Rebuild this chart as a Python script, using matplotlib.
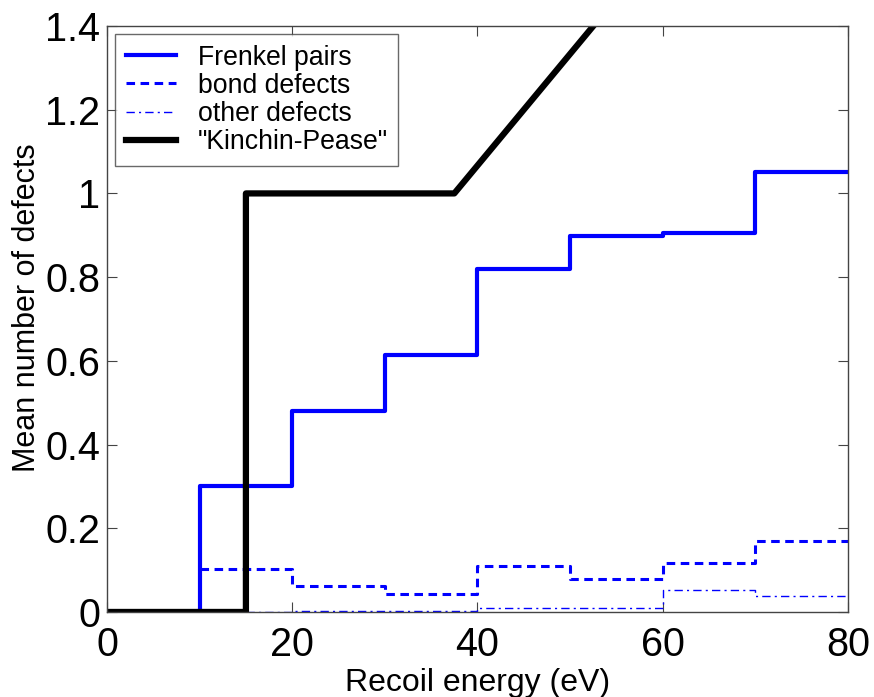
import numpy as np
import matplotlib
matplotlib.use('Agg')
import matplotlib.pyplot as plt

# step data (value holds from each energy to the next)
energy_bins = [0, 10, 20, 30, 40, 50, 60, 70, 80]
frenkel_pairs = [0.0, 0.30, 0.48, 0.615, 0.82, 0.898, 0.905, 1.05, 1.05]

bond_x = [10, 20, 30, 40, 50, 60, 70, 80]
bond_defects = [0.103, 0.062, 0.042, 0.110, 0.079, 0.117, 0.169, 0.169]

other_x = [15, 20, 30, 40, 50, 60, 70, 80]
other_defects = [0.0, 0.003, 0.003, 0.010, 0.010, 0.053, 0.038, 0.038]

# "Kinchin-Pease" curve corners
kp_x = [0, 15, 15, 37.5, 80]
kp_y = [0, 0, 1, 1, 2.133]

plt.rcParams['font.family'] = ['Liberation Sans', 'DejaVu Sans']

fig = plt.figure(figsize=(8.74, 6.97), dpi=100)
ax = fig.add_axes([0.1224, 0.1220, 0.8478, 0.8407])

ax.plot(energy_bins, frenkel_pairs, drawstyle='steps-post', color='#0000ff', lw=3, label='Frenkel pairs')
ax.plot(bond_x, bond_defects, drawstyle='steps-post', color='#0000ff', lw=2.2, ls=(0, (2.8, 1.8)), label='bond defects')
ax.plot(other_x, other_defects, drawstyle='steps-post', color='#0000ff', lw=1.0, ls=(0, (6, 3, 1.5, 3)), label='other defects')
ax.plot(kp_x, kp_y, color='black', lw=4.5, label='"Kinchin-Pease"')

ax.set_xlim(0, 80)
ax.set_ylim(0, 1.4)
ax.set_xticks([0, 20, 40, 60, 80])
ax.set_yticks(np.arange(0, 1.41, 0.2))
ax.set_yticklabels(['0', '0.2', '0.4', '0.6', '0.8', '1', '1.2', '1.4'])
ax.tick_params(direction='in', length=7, width=0.8, color='#444444', labelsize=28.5,
               top=True, right=True)
ax.tick_params(axis='x', pad=10)
ax.tick_params(axis='y', pad=5)
for s in ax.spines.values():
    s.set_color('#444444')
    s.set_linewidth(1.0)

ax.set_xlabel('Recoil energy (eV)', fontsize=23, labelpad=3)
ax.set_ylabel('Mean number of defects', fontsize=22)
ax.yaxis.set_label_coords(-0.088, 0.52)

leg = ax.legend(loc='upper left', fontsize=19.2, frameon=True, fancybox=False,
                edgecolor='#444444', borderaxespad=0.3, handlelength=1.9,
                handletextpad=0.8, labelspacing=0.08, borderpad=0.4)
leg.get_frame().set_linewidth(1.0)

fig.savefig('out.png', dpi=100)
